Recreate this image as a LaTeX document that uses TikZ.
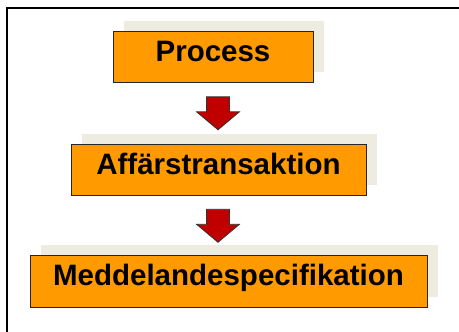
\documentclass[tikz,border=0pt]{standalone}
\usepackage{fontspec}
\setmainfont{Liberation Sans}
\usetikzlibrary{shapes.arrows,shadows}
\definecolor{boxorange}{RGB}{255,155,0}
\definecolor{arrowred}{RGB}{192,0,0}
\definecolor{shadowbeige}{RGB}{238,236,225}
\tikzset{
	stepbox/.style={draw=black!85, line width=0.9pt, fill=boxorange, minimum height=51pt, inner sep=0pt,
		text height=21pt, text depth=12pt, font=\fontsize{29.5}{30}\selectfont\bfseries,
		drop shadow={shadow xshift=11pt, shadow yshift=10pt, fill=shadowbeige, opacity=1}},
	downarrow/.style={single arrow, draw=black!80, line width=0.8pt, fill=arrowred, rotate=-90,
		inner xsep=0pt, inner ysep=11pt, minimum width=42pt, minimum height=33pt,
		single arrow head extend=10pt, single arrow tip angle=100}
}

\begin{document}
\begin{tikzpicture}[x=1pt, y=-1pt]
			%%%%% START %%%%%
			\useasboundingbox (0, 0) rectangle (459, 332);
			\draw[line width=2pt] (7, 345) -- (7, 8) -- (470, 8);
			
			\node[stepbox, minimum width=200pt] (process) at (213, 56.5) {Process};
			\node[downarrow] (arr1) at (218, 108.5) {};
			
			\node[stepbox, minimum width=295pt] (transaktion) at (218.5, 169.5) {Affärstransaktion};
			\node[downarrow] (arr2) at (218, 221) {};
			
			\node[stepbox, minimum width=397pt, minimum height=52pt] (specifikation) at (228.5, 281) {Meddelandespecifikation};
			%%%%% END %%%%%
		\end{tikzpicture}
\end{document}
